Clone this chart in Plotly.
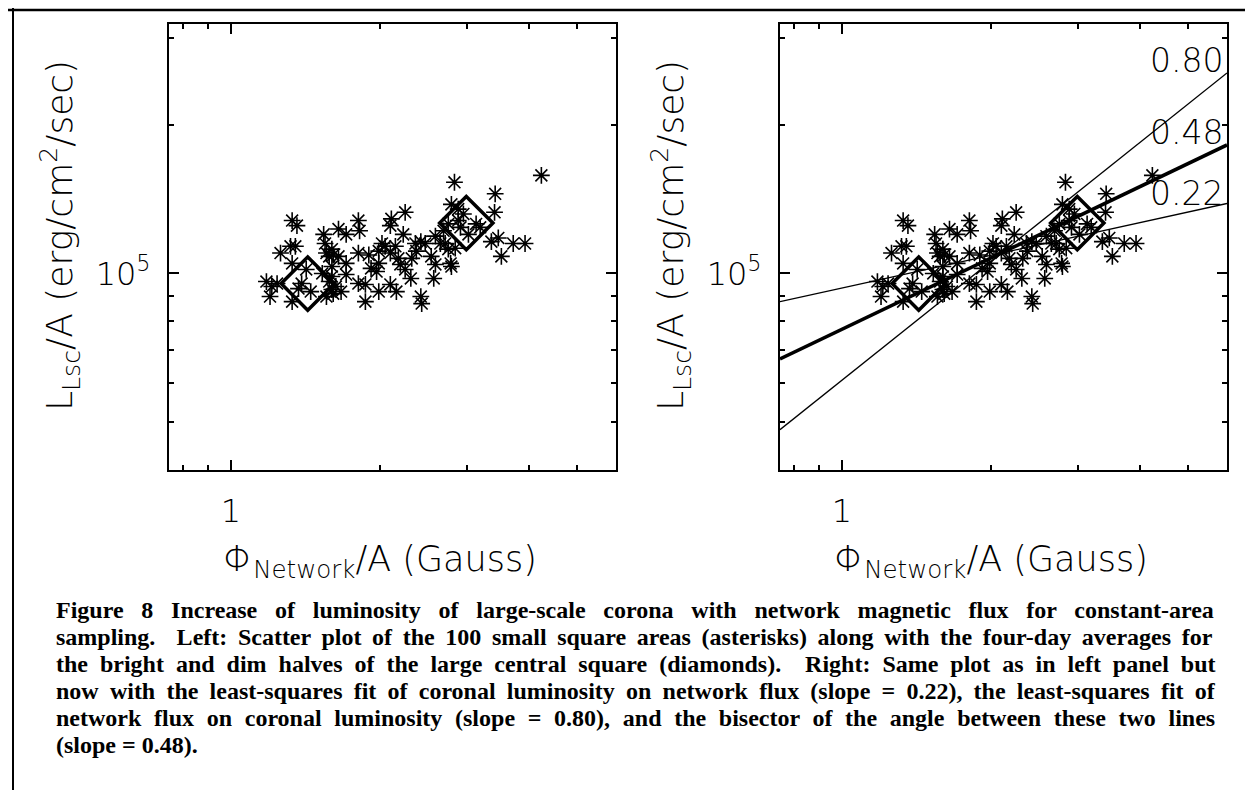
import numpy as np
import plotly.graph_objects as go

# ---------------- data ----------------
flux = [4.24, 2.83, 3.42, 2.79, 3.41, 2.88, 2.95, 2.25, 2.11, 2.10,
        1.81, 1.33, 1.36, 1.82, 1.65, 1.54, 1.71, 2.23, 2.75, 2.91,
        3.13, 3.19, 2.59, 2.71, 1.32, 1.35, 1.26, 1.56, 1.60, 1.81,
        1.90, 1.99, 2.05, 2.15, 2.36, 2.42, 2.47, 2.65, 3.36, 3.47,
        3.72, 3.93, 3.52, 2.75, 2.84, 1.58, 1.65, 1.71, 1.33, 1.42,
        1.60, 1.71, 1.92, 1.99, 1.97, 2.18, 2.20, 2.25, 2.32, 2.37,
        2.54, 2.59, 2.78, 2.79, 2.57, 2.31, 2.10, 2.16, 1.87, 1.81,
        1.99, 1.87, 2.42, 2.43, 1.18, 1.21, 1.24, 1.33, 1.39, 1.37,
        1.45, 1.58, 1.60, 1.56, 1.61, 1.67, 1.63, 1.53, 1.60, 1.55,
        1.61, 2.02, 2.10, 2.88, 3.02, 2.69, 1.20]
lum = [1.58e5, 1.53e5, 1.45e5, 1.38e5, 1.33e5, 1.35e5, 1.32e5, 1.33e5, 1.29e5, 1.25e5,
       1.28e5, 1.28e5, 1.25e5, 1.22e5, 1.23e5, 1.20e5, 1.20e5, 1.20e5, 1.26e5, 1.24e5,
       1.26e5, 1.24e5, 1.19e5, 1.15e5, 1.135e5, 1.135e5, 1.10e5, 1.10e5, 1.12e5, 1.10e5,
       1.09e5, 1.11e5, 1.135e5, 1.135e5, 1.15e5, 1.16e5, 1.15e5, 1.15e5, 1.16e5, 1.18e5,
       1.15e5, 1.15e5, 1.083e5, 1.12e5, 1.125e5, 1.083e5, 1.083e5, 1.048e5, 1.048e5, 1.019e5,
       1.033e5, 0.995e5, 1.024e5, 1.048e5, 1.009e5, 1.073e5, 1.043e5, 1.019e5, 1.073e5, 1.11e5,
       1.083e5, 1.043e5, 1.048e5, 1.033e5, 0.977e5, 0.977e5, 0.950e5, 0.919e5, 0.950e5, 0.954e5,
       0.919e5, 0.877e5, 0.898e5, 0.869e5, 0.963e5, 0.941e5, 0.954e5, 0.877e5, 0.954e5, 0.932e5,
       0.919e5, 0.963e5, 0.928e5, 0.898e5, 0.910e5, 0.919e5, 0.941e5, 1.00e5, 0.986e5, 1.15e5,
       1.09e5, 1.15e5, 1.10e5, 1.28e5, 1.20e5, 1.22e5, 0.898e5]

avg_flux = [1.43, 2.99]          # four-day averages, dim / bright halves
avg_lum = [0.954e5, 1.265e5]

fit_slopes = [0.22, 0.80, 0.48]  # least-squares fits and bisector
fit_labels = ["0.22", "0.80", "0.48"]
fit_label_lum = [1.45e5, 2.70e5, 1.93e5]
pivot_flux = 2.10                # common crossing point of the three lines
pivot_lum = 1.10e5

x_tick_vals = [1]
x_tick_text = ["1"]
x_minor_vals = [0.8, 0.9, 2, 3, 4, 5]
y_tick_vals = [1e5]
y_tick_text = ["10<sup>5</sup>"]
y_minor_vals = [5e4, 6e4, 7e4, 8e4, 9e4, 2e5, 3e5]

x_range = [0.75, 6.0]
y_range = [4.0e4, 3.2e5]

caption_lines = [
    "Figure 8 Increase of luminosity of large-scale corona with network magnetic flux for constant-area",
    "sampling.  Left: Scatter plot of the 100 small square areas (asterisks) along with the four-day averages for",
    "the bright and dim halves of the large central square (diamonds).  Right: Same plot as in left panel but",
    "now with the least-squares fit of coronal luminosity on network flux (slope = 0.22), the least-squares fit of",
    "network flux on coronal luminosity (slope = 0.80), and the bisector of the angle between these two lines",
    "(slope = 0.48).",
]

# ---------------- figure ----------------
W, H = 1253, 790
AX_FONT = dict(family="DejaVu Sans", size=32, color="black", weight=200)
LBL_FONT = dict(family="DejaVu Sans", size=33, color="black", weight=200)
TITLE_FONT = dict(family="DejaVu Sans", size=36, color="black", weight=200)
XTITLE_FONT = dict(family="DejaVu Sans", size=35, color="black", weight=200)
CAP_SIZE = 24

fig = go.Figure()
for xa, ya in (("x", "y"), ("x2", "y2")):
    fig.add_trace(go.Scatter(
        x=flux, y=lum, mode="markers", xaxis=xa, yaxis=ya, showlegend=False,
        marker=dict(symbol="asterisk-open", size=14, color="black",
                    line=dict(color="black", width=1.6))))
    fig.add_trace(go.Scatter(
        x=avg_flux, y=avg_lum, mode="markers", xaxis=xa, yaxis=ya, showlegend=False,
        marker=dict(symbol="diamond-open", size=41, color="black",
                    line=dict(color="black", width=3.5))))

xl = np.array(x_range)
for s in fit_slopes:
    yl = pivot_lum * (xl / pivot_flux) ** s
    fig.add_trace(go.Scatter(
        x=xl, y=yl, mode="lines", xaxis="x2", yaxis="y2", showlegend=False,
        line=dict(color="black", width=3.5 if s == 0.48 else 1.3)))

px_x = lambda p: p / W
px_y = lambda p: 1 - p / H
dom_x1 = [px_x(161), px_x(608)]
dom_x2 = [px_x(772), px_x(1219)]
dom_y = [px_y(462), px_y(16)]


def xaxis(domain, anchor):
    return dict(domain=domain, anchor=anchor, type="log",
                range=[np.log10(x_range[0]), np.log10(x_range[1])],
                tickmode="array", tickvals=x_tick_vals, ticktext=x_tick_text,
                ticks="inside", ticklen=10, tickwidth=1.5, tickcolor="black",
                minor=dict(tickmode="array", tickvals=x_minor_vals, ticks="inside",
                           ticklen=5, tickwidth=1.5, tickcolor="black", showgrid=False),
                showline=True, linewidth=2, linecolor="black", mirror="ticks",
                showgrid=False, zeroline=False, tickfont=AX_FONT,
                ticklabelstandoff=12)


def yaxis(domain, anchor):
    return dict(domain=domain, anchor=anchor, type="log",
                range=[np.log10(y_range[0]), np.log10(y_range[1])],
                tickmode="array", tickvals=y_tick_vals, ticktext=y_tick_text,
                ticks="inside", ticklen=10, tickwidth=1.5, tickcolor="black",
                minor=dict(tickmode="array", tickvals=y_minor_vals, ticks="inside",
                           ticklen=5, tickwidth=1.5, tickcolor="black", showgrid=False),
                showline=True, linewidth=2, linecolor="black", mirror="ticks",
                showgrid=False, zeroline=False, tickfont=AX_FONT,
                ticklabelstandoff=10)


# approximate Times-Bold advance widths (1/1000 em) used to justify the caption
TB = {" ": 250, "(": 333, ")": 333, ",": 250, "-": 333, ".": 250, ":": 333, "=": 570,
      "F": 611, "I": 389, "L": 667, "R": 722, "S": 556}
TB.update({d: 500 for d in "0123456789"})
TB.update(dict(zip("abcdefghijklmnopqrstuvwxyz",
                   [500, 556, 444, 556, 444, 333, 500, 556, 278, 333, 556, 278, 833,
                    556, 500, 556, 556, 444, 389, 333, 556, 500, 722, 500, 500, 444])))


def text_w(s):
    return sum(TB.get(c, 500) for c in s) * CAP_SIZE / 1000.0


def justify(line, target):
    # double spaces become a regular space + no-break space so they survive
    line = line.replace("  ", " \u00a0")
    gaps = line.count(" ")
    ws = max(0.0, (target - text_w(line)) / gaps)
    return '<span style="word-spacing:%.2fpx">%s</span>' % (ws, line)


annotations = []
# slope labels
for lab, yv in zip(fit_labels, fit_label_lum):
    annotations.append(dict(x=np.log10(x_range[1]) - 0.004, y=np.log10(yv), xref="x2", yref="y2",
                            text=lab, showarrow=False, xanchor="right", yanchor="middle",
                            font=LBL_FONT))
# axis titles
ytitle = "L<sub>Lsc</sub>/A (erg/cm<sup>2</sup>/sec)"
xtitle = "\u03a6<sub>Network</sub>/A (Gauss)"
for cx_y, cx_x in ((52, 372), (663, 983)):
    annotations.append(dict(x=px_x(cx_y), y=px_y(228), xref="paper", yref="paper",
                            text=ytitle, showarrow=False, textangle=-90,
                            xanchor="center", yanchor="middle", font=TITLE_FONT))
    annotations.append(dict(x=px_x(cx_x), y=px_y(553), xref="paper", yref="paper",
                            text=xtitle, showarrow=False,
                            xanchor="center", yanchor="middle", font=XTITLE_FONT))
# caption (justified like the original, last line left as is)
for i, line in enumerate(caption_lines):
    txt = justify(line, 1160) if i < len(caption_lines) - 1 else line
    annotations.append(dict(x=px_x(46), y=px_y(602 + 27 * i), xref="paper", yref="paper",
                            text="<b>" + txt + "</b>", showarrow=False,
                            xanchor="left", yanchor="middle",
                            font=dict(family="Liberation Serif", size=CAP_SIZE, color="black")))

shapes = [
    dict(type="line", xref="paper", yref="paper", x0=0, x1=1, y0=px_y(2), y1=px_y(2),
         line=dict(color="black", width=2.5)),
    dict(type="line", xref="paper", yref="paper", x0=px_x(5), x1=px_x(5), y0=0, y1=1,
         line=dict(color="black", width=2)),
]

fig.update_layout(
    width=W, height=H, margin=dict(l=0, r=0, t=0, b=0),
    paper_bgcolor="white", plot_bgcolor="white",
    xaxis=xaxis(dom_x1, "y"), yaxis=yaxis(dom_y, "x"),
    xaxis2=xaxis(dom_x2, "y2"), yaxis2=yaxis(dom_y, "x2"),
    annotations=annotations, shapes=shapes, showlegend=False,
)

fig.write_html("out.html")
